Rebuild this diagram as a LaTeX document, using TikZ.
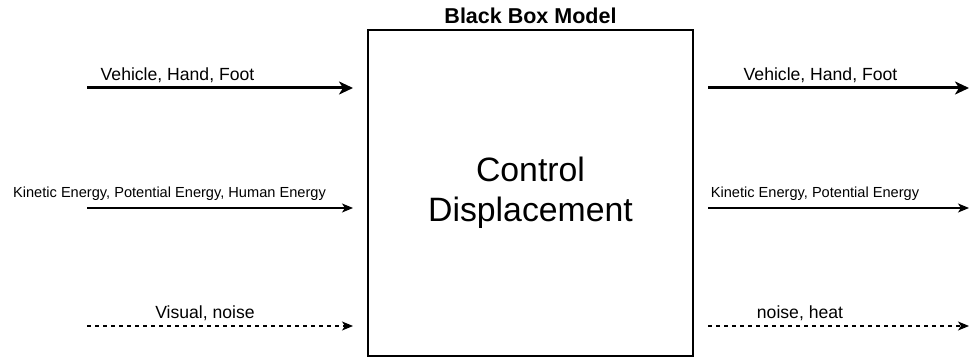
\documentclass[tikz,border=0pt]{standalone}
\usepackage{fontspec}
\setmainfont{Liberation Sans}
\usetikzlibrary{arrows.meta}
\begin{document}
\begin{tikzpicture}[x=1pt,y=-1pt,
  lbl/.style={inner sep=0pt, anchor=center},
  bigarrow/.style={line width=3pt, -{Stealth[length=14pt,width=13pt,inset=4pt]}},
  medarrow/.style={line width=1.5pt, -{Stealth[length=11pt,width=9pt,inset=3pt]}},
  dasharrow/.style={line width=1.5pt, dash pattern=on 4pt off 4pt, -{Stealth[length=11pt,width=9pt,inset=3pt]}},
  mid/.style={font=\fontsize{17.6}{20}\selectfont},
  small/.style={font=\fontsize{14.6}{17}\selectfont}]
\useasboundingbox (0,0) rectangle (970,358);
\node[draw, line width=1.5pt, minimum width=325pt, minimum height=326pt, inner sep=0pt,
  align=center, font=\fontsize{33.8}{40}\selectfont] (box) at (530.5,193) {Control\\Displacement};
\node[lbl, font=\bfseries\fontsize{21.5}{24}\selectfont] (title) at (530.5,16) {Black Box Model};
% left coordinates
\coordinate (l1s) at (87,88);   \coordinate (l1e) at (353,88);
\coordinate (l2s) at (87,208);  \coordinate (l2e) at (353,208);
\coordinate (l3s) at (87,326);  \coordinate (l3e) at (353,326);
% right coordinates
\coordinate (r1s) at (708,88);  \coordinate (r1e) at (969,88);
\coordinate (r2s) at (708,208); \coordinate (r2e) at (969,208);
\coordinate (r3s) at (708,326); \coordinate (r3e) at (969,326);
\draw[bigarrow] (l1s) -- (l1e);
\draw[medarrow] (l2s) -- (l2e);
\draw[dasharrow] (l3s) -- (l3e);
\draw[bigarrow] (r1s) -- (r1e);
\draw[medarrow] (r2s) -- (r2e);
\draw[dasharrow] (r3s) -- (r3e);
\node[lbl, mid] (t1) at (177.5,75) {Vehicle, Hand, Foot};
\node[lbl, small] (t2) at (169.5,194) {Kinetic Energy, Potential Energy, Human Energy};
\node[lbl, mid] (t3) at (205,313) {Visual, noise};
\node[lbl, mid] (t4) at (820.5,75) {Vehicle, Hand, Foot};
\node[lbl, small] (t5) at (815,194) {Kinetic Energy, Potential Energy};
\node[lbl, mid] (t6) at (800,313) {noise, heat};
\end{tikzpicture}
\end{document}
